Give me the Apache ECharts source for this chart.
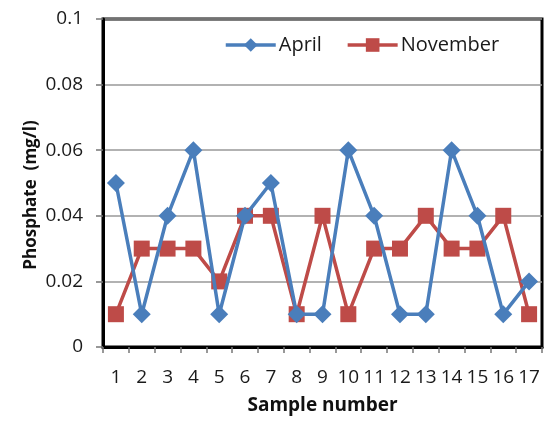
<!DOCTYPE html>
<html>
<head>
<meta charset="utf-8">
<script src="https://cdn.jsdelivr.net/npm/echarts@6/dist/echarts.min.js"></script>
<style>
  html, body { margin: 0; padding: 0; background: #fff; }
  #chart { width: 544px; height: 421px; }
</style>
</head>
<body>
<div id="chart"></div>
<script>
// Phosphate concentration (mg/l) per sample, two sampling campaigns
const samples = ['1','2','3','4','5','6','7','8','9','10','11','12','13','14','15','16','17'];
const april = [0.05, 0.01, 0.04, 0.06, 0.01, 0.04, 0.05, 0.01, 0.01, 0.06, 0.04, 0.01, 0.01, 0.06, 0.04, 0.01, 0.02];
const november = [0.01, 0.03, 0.03, 0.03, 0.02, 0.04, 0.04, 0.01, 0.04, 0.01, 0.03, 0.03, 0.04, 0.03, 0.03, 0.04, 0.01];
const yTicks = [0, 0.02, 0.04, 0.06, 0.08, 0.1];
const yTitle = 'Phosphate  (mg/l)';
const xTitle = 'Sample number';

const font = 'Open Sans, Noto Sans, sans-serif';
const blue = '#4A7EBB';
const red = '#BE4B48';

const chart = echarts.init(document.getElementById('chart'), null, { renderer: 'canvas' });
chart.setOption({
  animation: false,
  backgroundColor: '#fff',
  grid: {
    left: 103, right: 2, top: 19, bottom: 74,
    show: true, borderColor: '#000', borderWidth: 3, backgroundColor: 'transparent'
  },
  legend: {
    top: 30, left: 219,
    itemGap: 24, itemWidth: 50, itemHeight: 17,
    lineStyle: { width: 3.5 },
    textStyle: { fontFamily: font, fontSize: 20, color: '#1a1a1a', padding: [0, 0, 0, -2] },
    data: ['April', 'November']
  },
  graphic: [{
    type: 'text',
    x: 31, y: 195,
    rotation: Math.PI / 2,
    style: {
      text: yTitle,
      fontFamily: font, fontSize: 17, fontWeight: 'bold', fill: '#111',
      align: 'center', verticalAlign: 'middle'
    }
  }],
  xAxis: {
    type: 'category',
    data: samples,
    boundaryGap: true,
    name: xTitle,
    nameLocation: 'middle',
    nameGap: 49,
    nameTextStyle: { fontFamily: font, fontSize: 19, fontWeight: 'bold', color: '#111' },
    axisLine: { lineStyle: { color: '#000', width: 3 } },
    axisTick: { show: true, length: 6, lineStyle: { color: '#777', width: 1.5 } },
    axisLabel: { fontFamily: font, fontSize: 19, color: '#1a1a1a', margin: 21, interval: 0 },
    splitLine: { show: false }
  },
  yAxis: {
    type: 'value',
    min: 0, max: 0.1, interval: 0.02,
    axisLine: { show: true, lineStyle: { color: '#000', width: 3 } },
    axisTick: { show: true, length: 7, lineStyle: { color: '#777', width: 1.5 } },
    axisLabel: {
      fontFamily: font, fontSize: 19, color: '#1a1a1a', margin: 20,
      formatter: v => {
        const t = yTicks.find(x => Math.abs(x - v) < 1e-9);
        return t === undefined ? '' : String(t);
      }
    },
    splitLine: { show: true, lineStyle: { color: '#999', width: 1.5 } }
  },
  series: [
    {
      name: 'April',
      type: 'line',
      data: april,
      symbol: 'diamond',
      symbolSize: 18,
      color: blue,
      lineStyle: { width: 3.5, color: blue },
      itemStyle: { color: blue },
      z: 3
    },
    {
      name: 'November',
      type: 'line',
      data: november,
      symbol: 'rect',
      symbolSize: 16,
      color: red,
      lineStyle: { width: 3.5, color: red },
      itemStyle: { color: red },
      z: 2
    }
  ]
});
</script>
</body>
</html>
